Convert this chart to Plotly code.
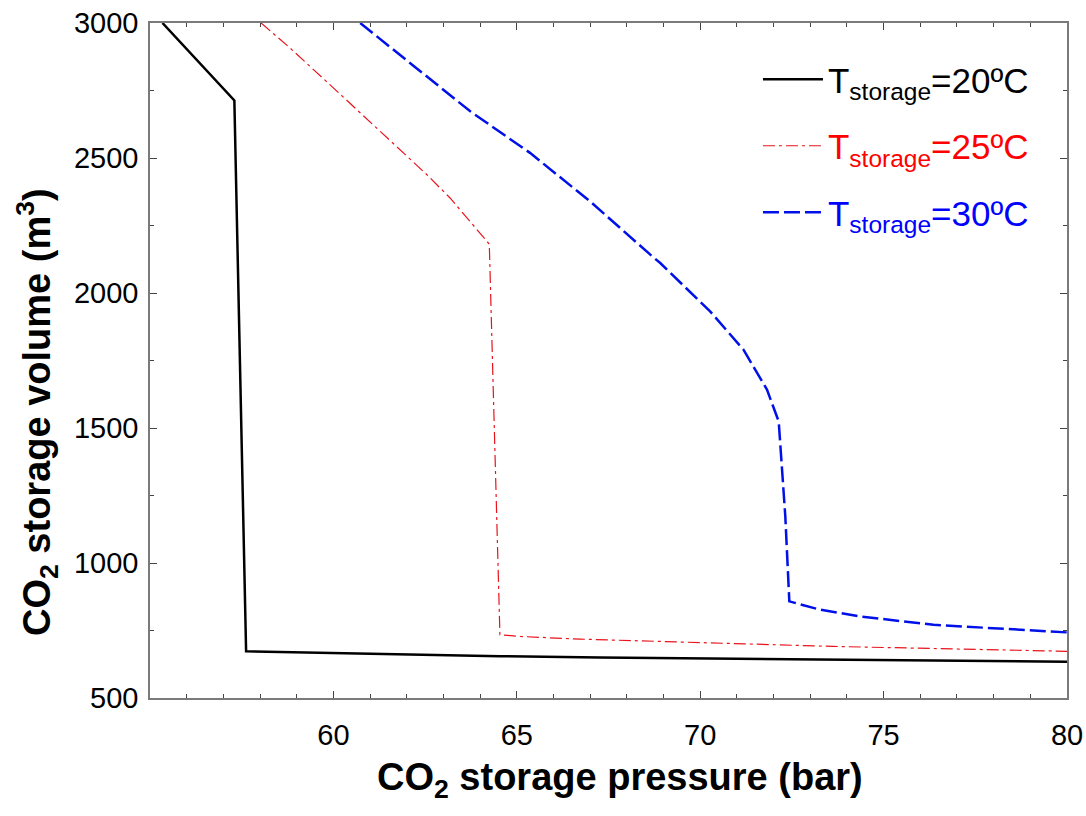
import plotly.graph_objects as go

# CO2 storage volume vs storage pressure at three storage temperatures
p_20 = [55.34, 57.30, 57.62, 60.0, 64.54, 67.27, 73.6, 80.0]
v_20 = [3000, 2713, 673, 666, 655, 650, 642, 634]

p_25 = [58.03, 58.82, 59.91, 61.09, 61.82, 62.55, 63.18, 63.73, 64.25,
        64.54, 65.09, 66.73, 67.27, 73.63, 80.0]
v_25 = [3000, 2907, 2771, 2623, 2531, 2438, 2352, 2265, 2181,
        734, 728, 718, 716, 691, 673]

p_30 = [60.73, 62.09, 63.73, 65.36, 67.0, 68.64, 68.91, 70.27, 71.18,
        71.82, 72.14, 72.32, 72.43, 73.27, 74.36, 76.36, 80.0]
v_30 = [3000, 2852, 2673, 2519, 2339, 2142, 2111, 1932, 1790,
        1642, 1524, 1173, 858, 827, 802, 771, 743]

names = [
    '<span style="color:black">T<sub>storage</sub>=20ºC</span>',
    '<span style="color:red">T<sub>storage</sub>=25ºC</span>',
    '<span style="color:blue">T<sub>storage</sub>=30ºC</span>',
]

FONT = "Liberation Sans, Arial, sans-serif"

fig = go.Figure()
fig.add_trace(go.Scatter(x=p_20, y=v_20, mode="lines", name=names[0],
                         legendgroup="a",
                         line=dict(color="black", width=2.5)))
fig.add_trace(go.Scatter(x=p_25, y=v_25, mode="lines", name=names[1],
                         legendgroup="b",
                         line=dict(color="#e8141c", width=1.2,
                                   dash="12px,4px,3px,4px")))
fig.add_trace(go.Scatter(x=p_30, y=v_30, mode="lines", name=names[2],
                         legendgroup="c",
                         line=dict(color="#0010e8", width=2.5,
                                   dash="16px,5px")))

axis_common = dict(
    showline=True, linecolor="#7a7a7a", linewidth=1.5,
    mirror="allticks", ticks="inside", ticklen=7, tickwidth=1.2,
    tickcolor="#444", showgrid=False, zeroline=False, automargin=False,
    tickfont=dict(family=FONT, size=29, color="black"),
)

fig.update_xaxes(range=[55, 80], tickvals=[60, 65, 70, 75, 80],
                 minor=dict(dtick=1, ticks="inside", ticklen=4,
                            tickcolor="#444", tickwidth=1.2),
                 ticklabelstandoff=10, **axis_common)
fig.update_yaxes(range=[500, 3000], dtick=500,
                 minor=dict(dtick=250, ticks="inside", ticklen=4,
                            tickcolor="#444", tickwidth=1.2),
                 ticklabelstandoff=4, **axis_common)

fig.add_annotation(text="CO<sub>2</sub> storage pressure (bar)",
                   xref="paper", yref="paper", x=0.5125, y=-0.122,
                   xanchor="center", yanchor="middle", showarrow=False,
                   font=dict(family=FONT, size=38, color="black",
                             weight="bold"))
fig.add_annotation(text="CO<sub>2</sub> storage volume (m<sup>3</sup>)",
                   xref="paper", yref="paper", x=-0.123, y=0.424,
                   xanchor="center", yanchor="middle", showarrow=False,
                   textangle=-90,
                   font=dict(family=FONT, size=38, color="black",
                             weight="bold"))

fig.update_layout(
    width=1086, height=816,
    margin=dict(l=150, r=19, t=23, b=118, autoexpand=False),
    plot_bgcolor="white", paper_bgcolor="white",
    showlegend=True,
    legend=dict(x=0.663, y=0.960, xanchor="left", yanchor="top",
                bgcolor="rgba(0,0,0,0)", tracegroupgap=18, itemwidth=60,
                font=dict(family=FONT, size=35, color="black")),
)

fig.write_html("out.html")
